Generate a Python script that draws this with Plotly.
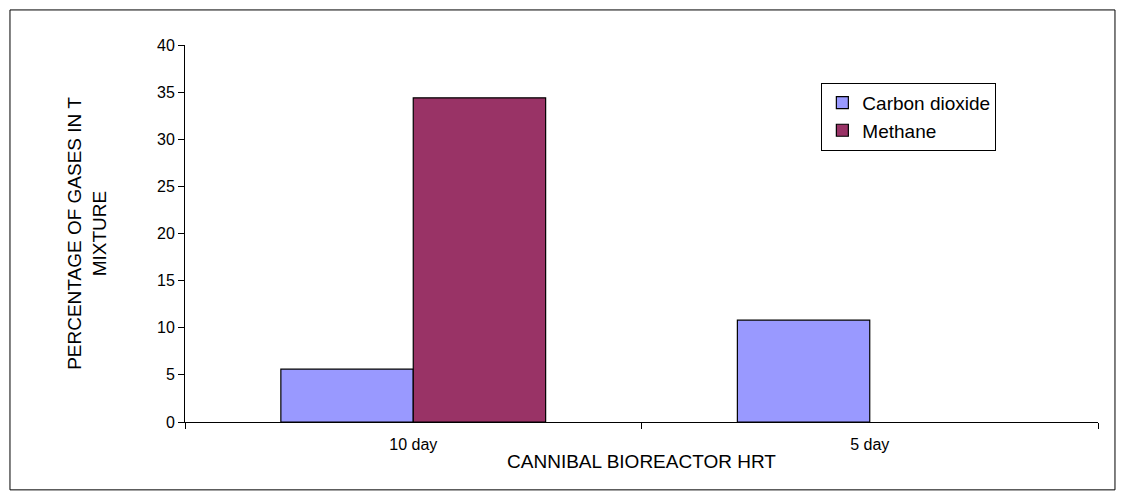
import plotly.graph_objects as go

categories = ["10 day", "5 day"]
co2 = [5.6, 10.8]
methane = [34.4, None]

fig = go.Figure()
fig.add_bar(x=categories, y=co2, name="Carbon dioxide", marker=dict(color="#9999FF", line=dict(color="black", width=1.2)))
fig.add_bar(x=categories, y=methane, name="Methane", marker=dict(color="#993366", line=dict(color="black", width=1.2)))

fig.update_layout(
    width=1109, height=483, barmode="group", bargap=0.42, bargroupgap=0,
    paper_bgcolor="white", plot_bgcolor="white",
    font=dict(family="Liberation Sans, Arial", size=16, color="black"),
    margin=dict(l=177, r=19, t=37, b=69, autoexpand=False),
    legend=dict(x=0.697, y=0.9, xanchor="left", yanchor="top", bordercolor="black", borderwidth=1,
                font=dict(size=19), bgcolor="white"),
    xaxis=dict(title=dict(text="CANNIBAL BIOREACTOR HRT", standoff=2), showline=True, linecolor="black",
               ticks="outside", tickson="boundaries", tickcolor="black", ticklen=6, automargin=False,
               ticklabelstandoff=8),
    yaxis=dict(title=dict(text="PERCENTAGE OF GASES IN T<br>MIXTURE", standoff=45), range=[0, 40], dtick=5,
               showline=True, linecolor="black", ticks="outside", tickcolor="black", ticklen=6,
               showgrid=False, zeroline=False, automargin=False),
    shapes=[dict(type="rect", xref="paper", yref="paper", x0=-0.1917, x1=1.0186, y0=-0.180, y1=1.093,
                 line=dict(color="black", width=1))],
)
fig.write_html("out.html")
